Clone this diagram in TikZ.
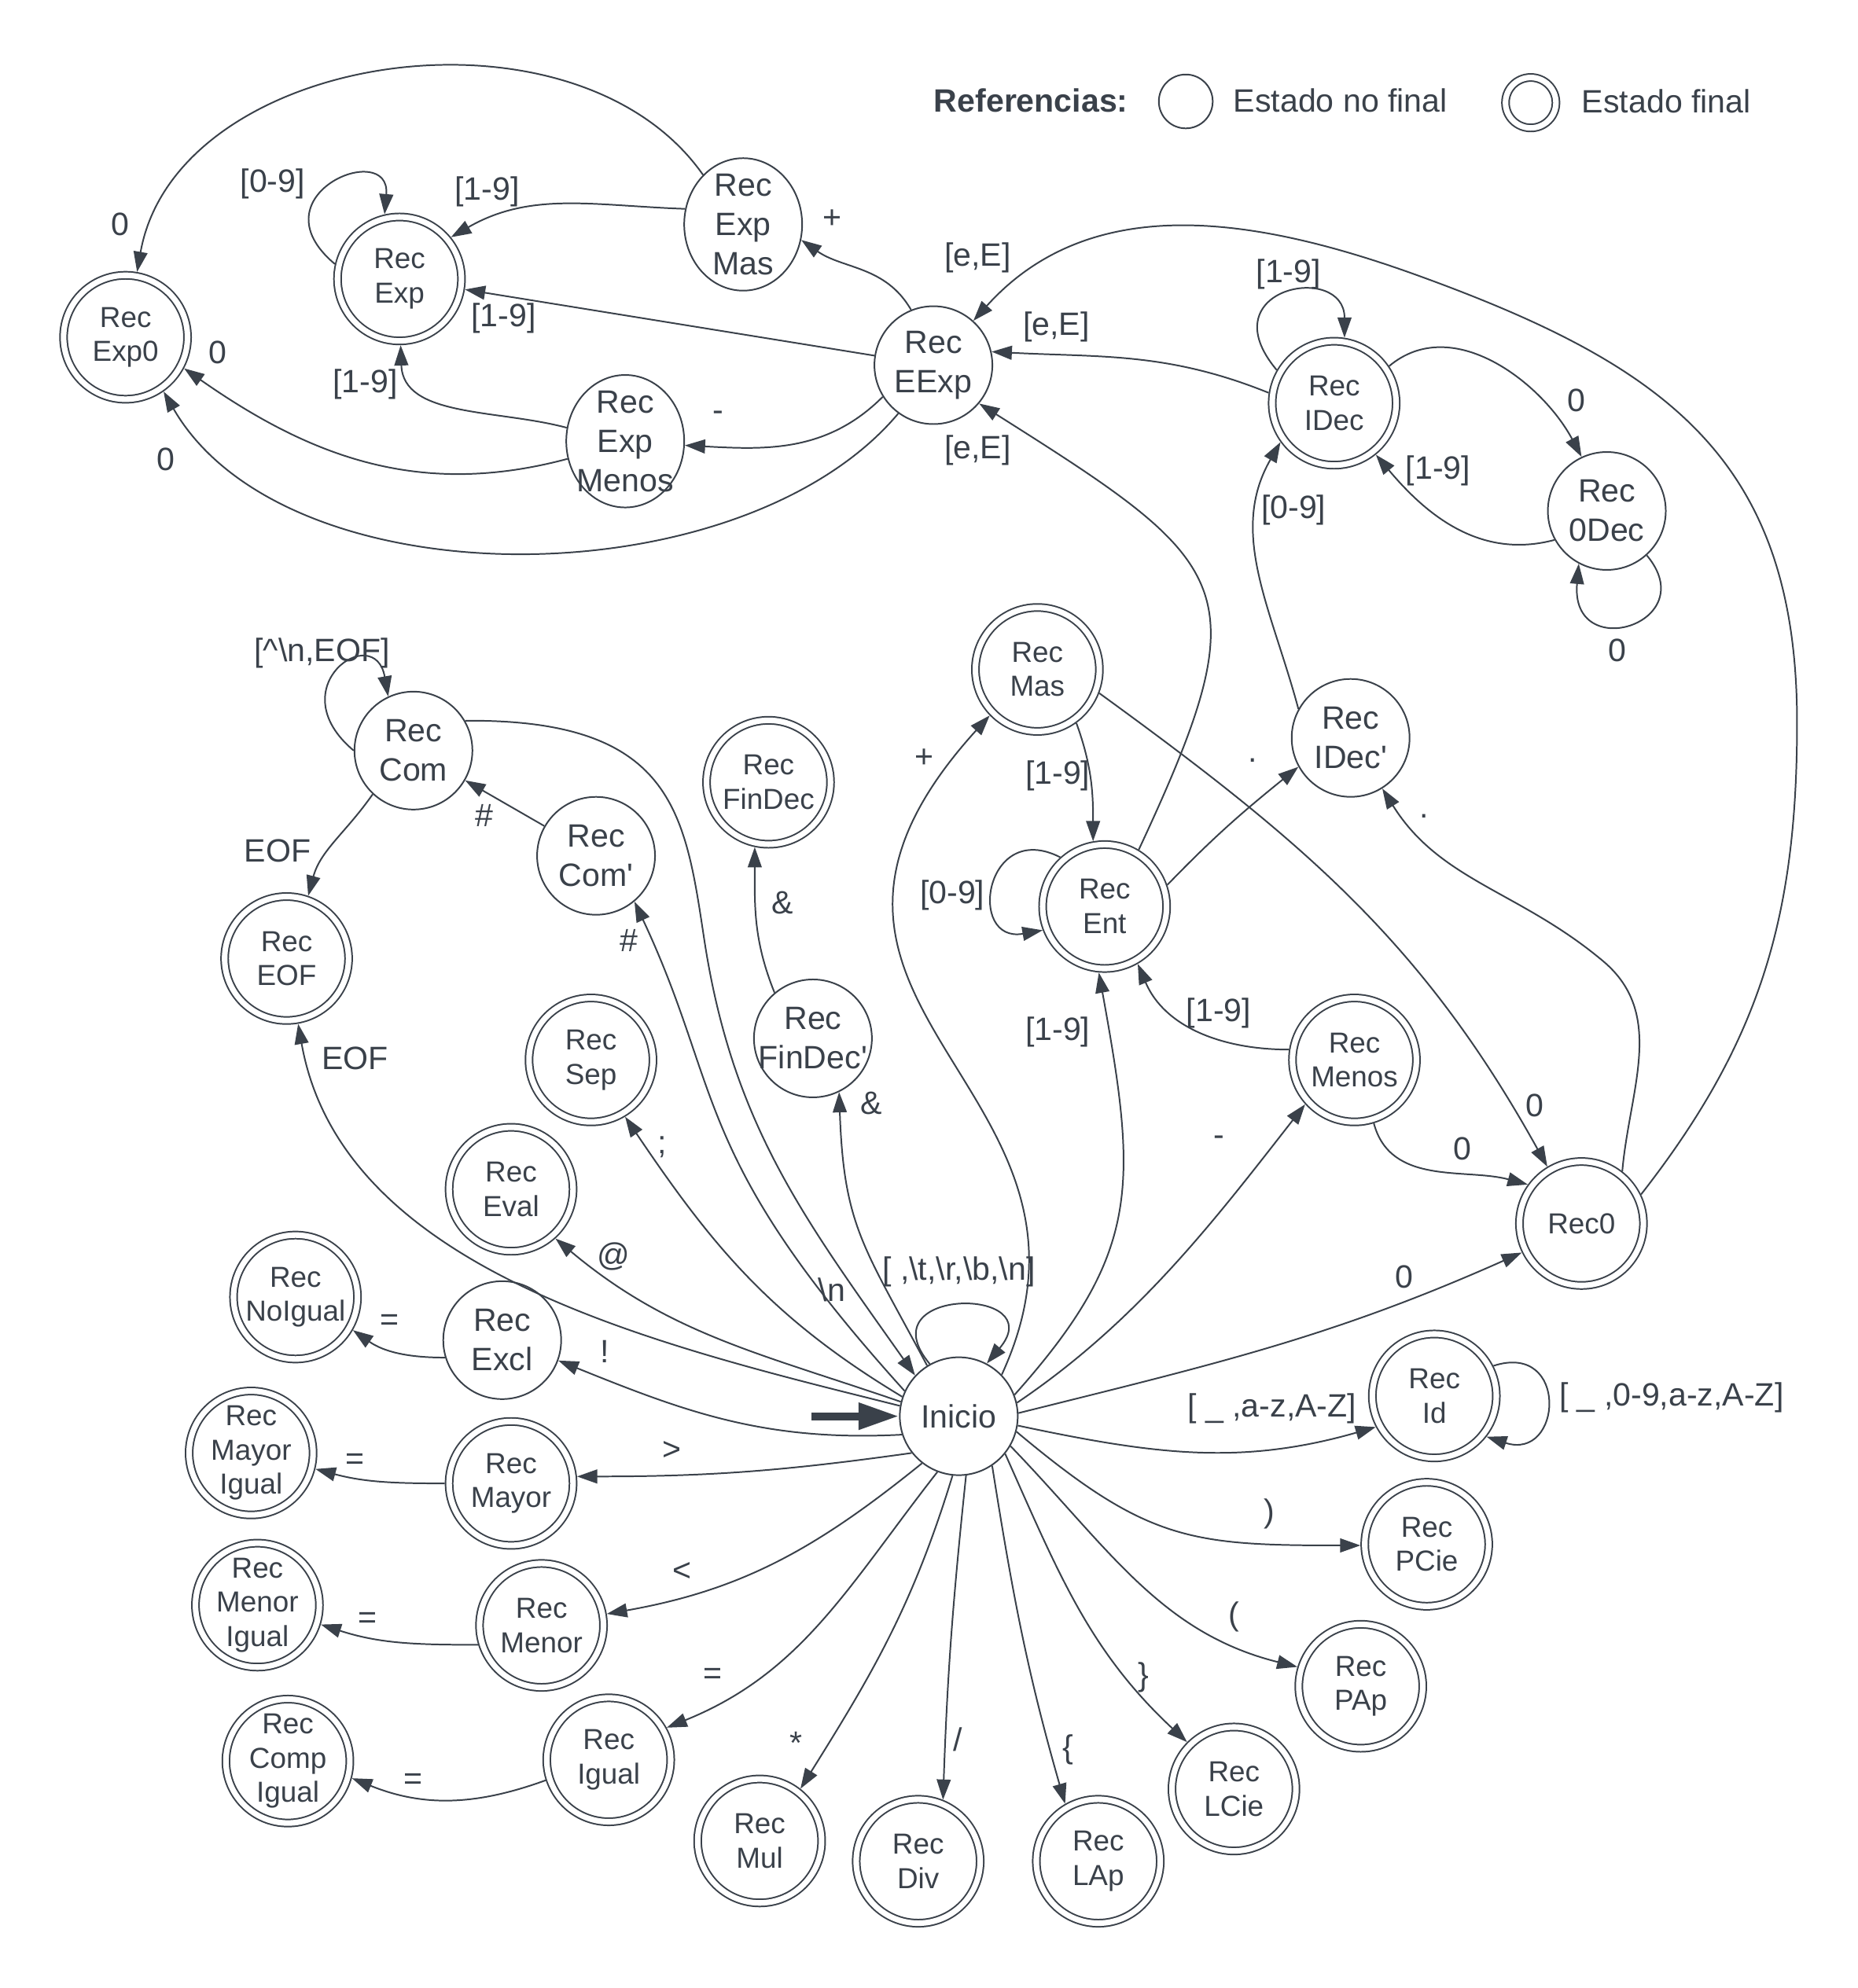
\documentclass[tikz,border=0pt]{standalone}
\usepackage{fontspec}
\setmainfont{Liberation Sans}
\usepackage{xcolor}
\usetikzlibrary{arrows.meta,shapes.geometric}
\definecolor{ink}{RGB}{58,65,74}
\newcommand{\bksl}{\textbackslash}
\newcommand{\prm}{\textquotesingle}

\begin{document}
\begin{tikzpicture}[
  x=0.02cm, y=0.02cm,
  >={Triangle[length=0.32cm,width=0.22cm]},
  nf/.style={circle, draw=ink, text=ink, line width=0.7pt, minimum size=1.86cm, inner sep=-8pt, align=center, font=\fontsize{14.5}{17.6}\selectfont},
  nfe/.style={nf, ellipse, minimum width=1.86cm, minimum height=2.09cm},
  fin/.style={circle, draw=ink, text=ink, line width=0.7pt, double, double distance=2.5pt, outer sep=1.95pt, minimum size=1.955cm, inner sep=-8pt, align=center, font=\fontsize{13}{15.4}\selectfont},
  lbl/.style={text=ink, inner sep=0pt, font=\fontsize{14.5}{17.6}\selectfont},
  tr/.style={->, draw=ink, line width=0.7pt}
]
\useasboundingbox (0,0) rectangle (1465,-1568);

% legend
\node[font=\bfseries\fontsize{14.5}{17.6}\selectfont, text=ink] (ref) at (813,-79) {Referencias:};
\node[nf, minimum size=0.85cm] (lgnf) at (935,-80) {};
\node[lbl] (lgnft) at (1057,-79) {Estado no final};
\node[fin, minimum size=0.79cm] (lgfin) at (1207,-81) {};
\node[lbl] (lgfint) at (1314,-80) {Estado final};

% states
\node[nf] (ini) at (756,-1117) {Inicio};
\node[fin] (exp0) at (99,-266) {Rec\\Exp0};
\node[fin] (exp) at (315,-220) {Rec\\Exp};
\node[nfe] (expmas) at (586,-177) {Rec\\Exp\\Mas};
\node[nfe] (expmenos) at (493,-348) {Rec\\Exp\\Menos};
\node[nf] (eexp) at (736,-288) {Rec\\EExp};
\node[fin] (idec) at (1052,-318) {Rec\\IDec};
\node[nf] (zdec) at (1267,-403) {Rec\\0Dec};
\node[fin] (mas) at (818,-528) {Rec\\Mas};
\node[fin] (findec) at (606,-617) {Rec\\FinDec};
\node[nf] (com) at (326,-592) {Rec\\Com};
\node[nf] (comp) at (470,-675) {Rec\\Com\prm};
\node[nf] (idecp) at (1065,-582) {Rec\\IDec\prm};
\node[fin] (ent) at (871,-715) {Rec\\Ent};
\node[fin] (eof) at (226,-756) {Rec\\EOF};
\node[fin] (sep) at (466,-836) {Rec\\Sep};
\node[nf] (findecp) at (641,-819) {Rec\\FinDec\prm};
\node[fin] (menos) at (1068,-836) {Rec\\Menos};
\node[fin] (eval) at (403,-938) {Rec\\Eval};
\node[fin] (cero) at (1247,-965) {Rec0};
\node[fin] (noigual) at (233,-1023) {Rec\\NoIgual};
\node[nf] (excl) at (396,-1057) {Rec\\Excl};
\node[fin] (id) at (1131,-1101) {Rec\\Id};
\node[fin] (mayorig) at (198,-1146) {Rec\\Mayor\\Igual};
\node[fin] (mayor) at (403,-1170) {Rec\\Mayor};
\node[fin] (pcie) at (1125,-1218) {Rec\\PCie};
\node[fin] (menorig) at (203,-1266) {Rec\\Menor\\Igual};
\node[fin] (menor) at (427,-1282) {Rec\\Menor};
\node[fin] (pap) at (1073,-1330) {Rec\\PAp};
\node[fin] (compig) at (227,-1389) {Rec\\Comp\\Igual};
\node[fin] (igual) at (480,-1388) {Rec\\Igual};
\node[fin] (lcie) at (973,-1411) {Rec\\LCie};
\node[fin] (mul) at (599,-1452) {Rec\\Mul};
\node[fin] (div) at (724,-1468) {Rec\\Div};
\node[fin] (lap) at (866,-1468) {Rec\\LAp};

\coordinate (st) at (640,-1117);
\coordinate (w1) at (1264,-758);
\coordinate (w2) at (1417,-570);
\coordinate (w3) at (1120,-218);
\coordinate (w4) at (555,-739);

% start
\draw[draw=ink, line width=3.5pt, -{Triangle[length=0.64cm,width=0.4cm]}] (st) -- (ini);

% from Inicio
\draw[tr] (ini.119) .. controls +(130:1.6cm) and +(50:1.6cm) .. (ini.62);
\draw[tr] (ini.170) to[out=166,in=-80,looseness=0.9] (eof.-80);
\draw[tr] (ini.166) to[out=161,in=-40] (eval.-48);
\draw[tr] (ini.161) to[out=149,in=-56] (sep.-59);
\draw[tr] (ini.155) .. controls (544,-910) and (571,-862) .. (comp.-50);
\draw[tr] (ini.122) to[out=118,in=-88,looseness=1.2] (findecp.-64);
\draw[tr] (ini.198) to[out=183,in=-22] (excl.-20);
\draw[tr] (ini.218) to[out=188,in=0] (mayor.6);
\draw[tr] (ini.-128) to[out=-141,in=10] (menor.10);
\draw[tr] (ini.-111) to[out=-128,in=22] (igual.29);
\draw[tr] (ini.-96) to[out=-107,in=58] (mul.52);
\draw[tr] (ini.-83) to[out=-96,in=88] (div.68);
\draw[tr] (ini.-56) to[out=-81,in=106] (lap.120);
\draw[tr] (ini.-39) to[out=-66,in=137] (lcie.135);
\draw[tr] (ini.-30) to[out=-46,in=166] (pap.163);
\draw[tr] (ini.-15) to[out=-40,in=180,looseness=1.2] (pcie.181);
\draw[tr] (ini.-9) to[out=-12,in=196] (id.208);
\draw[tr] (ini.3) to[out=14,in=204] (cero.206);
\draw[tr] (ini.13) to[out=34,in=232,looseness=0.9] (menos.222);
\draw[tr] (ini.21) .. controls (900,-988) and (897,-935) .. (ent.-95);
\draw[tr] (ini.44) .. controls (895,-856) and (571,-795) .. (mas.224);

% lower left
\draw[tr] (excl.197) to[out=180,in=-35] (noigual.-30);
\draw[tr] (mayor.180) to[out=180,in=-15] (mayorig.-14);
\draw[tr] (menor.197) to[out=180,in=-18] (menorig.-17);
\draw[tr] (igual.198) to[out=200,in=-22] (compig.-15);
\draw[tr] (id.27) .. controls +(18:1.26cm) and +(-18:1.26cm) .. (id.-38);

% comments
\draw[tr] (com.180) .. controls +(140:1.56cm) and +(100:1.22cm) .. (com.115);
\draw[tr] (com.227) to[out=235,in=75] (eof.71);
\draw[tr] (comp) -- (com);
\draw[tr] (com.30) .. controls (530,-567) and (540,-640) .. (w4) .. controls (577,-886) and (634,-961) .. (ini.137);
\draw[tr] (findecp.130) to[out=112,in=-90] (findec.-102);

% numbers
\draw[tr] (mas.-54) to[out=-70,in=90] (ent.100);
\draw[tr] (mas.-21) to[out=-36,in=119] (cero.121);
\draw[tr] (ent.132) .. controls +(153:1.34cm) and +(190:1.22cm) .. (ent.201);
\draw[tr] (ent.19) to[out=46,in=219] (idecp.209);
\draw[tr] (ent.59) .. controls (995,-462) and (974,-446) .. (eexp.-40);
\draw[tr] (menos.171) to[out=180,in=-67] (ent.-60);
\draw[tr] (menos.-73) to[out=-75,in=165] (cero.144);
\draw[tr] (cero.52) to[out=85,in=-40] (w1) to[out=140,in=-58] (idecp.-58);
\draw[tr] (cero.26) to[out=52,in=-90] (w2) to[out=90,in=-20,looseness=1.15] (w3) to[out=160,in=48] (eexp.48);
\draw[tr] (idecp.151) to[out=105,in=-120] (idec.216);
\draw[tr] (idec.150) .. controls +(130:1.7cm) and +(90:1.2cm) .. (idec.81);
\draw[tr] (idec.34) to[out=40,in=118] (zdec.115);
\draw[tr] (zdec.209) to[out=195,in=-50] (idec.-51);
\draw[tr] (zdec.-48) .. controls +(-50:1.4cm) and +(-95:1.6cm) .. (zdec.-118);
\draw[tr] (idec.171) to[out=158,in=-3] (eexp.13);

% exponent
\draw[tr] (eexp.112) to[out=120,in=-35] (expmas.-15);
\draw[tr] (eexp) -- (exp);
\draw[tr] (eexp.212) to[out=225,in=-3] (expmenos.-4);
\draw[tr] (eexp.-126) to[out=230,in=-60,looseness=0.85] (exp0.-55);
\draw[tr] (expmas.129) to[out=125,in=80] (exp0.80);
\draw[tr] (expmas.165) to[out=178,in=30] (exp.39);
\draw[tr] (expmenos.167) to[out=165,in=-88] (exp.-89);
\draw[tr] (expmenos.197) to[out=195,in=-35] (exp0.-28);
\draw[tr] (exp.167) .. controls +(140:1.7cm) and +(85:1.2cm) .. (exp.103);

% labels
\node[lbl] (l01) at (95,-177) {0};
\node[lbl] (l02) at (215,-145) {[0-9]};
\node[lbl] (l03) at (384,-151) {[1-9]};
\node[lbl] (l04) at (656,-173) {+};
\node[lbl] (l05) at (771,-203) {[e,E]};
\node[lbl] (l06) at (1016,-216) {[1-9]};
\node[lbl] (l07) at (397,-251) {[1-9]};
\node[lbl] (l08) at (833,-258) {[e,E]};
\node[lbl] (l09) at (172,-278) {0};
\node[lbl] (l10) at (288,-303) {[1-9]};
\node[lbl] (l11) at (1243,-316) {0};
\node[lbl] (l12) at (566,-328) {-};
\node[lbl] (l13) at (771,-355) {[e,E]};
\node[lbl] (l14) at (131,-362) {0};
\node[lbl] (l15) at (1134,-371) {[1-9]};
\node[lbl] (l16) at (1020,-402) {[0-9]};
\node[lbl] (l17) at (1275,-513) {0};
\node[lbl] (l18) at (254,-515) {[\textasciicircum\bksl n,EOF]};
\node[lbl] (l19) at (729,-598) {+};
\node[lbl] (l20) at (988,-600) {.};
\node[lbl] (l21) at (834,-612) {[1-9]};
\node[lbl] (l22) at (1123,-644) {.};
\node[lbl] (l23) at (382,-643) {\#};
\node[lbl] (l24) at (219,-671) {EOF};
\node[lbl] (l25) at (751,-706) {[0-9]};
\node[lbl] (l26) at (617,-712) {\&};
\node[lbl] (l27) at (496,-742) {\#};
\node[lbl] (l28) at (961,-799) {[1-9]};
\node[lbl] (l29) at (834,-814) {[1-9]};
\node[lbl] (l30) at (280,-835) {EOF};
\node[lbl] (l31) at (687,-870) {\&};
\node[lbl] (l32) at (1210,-872) {0};
\node[lbl] (l33) at (961,-900) {-};
\node[lbl] (l34) at (522,-905) {;};
\node[lbl] (l35) at (1153,-906) {0};
\node[lbl] (l36) at (484,-991) {@};
\node[lbl] (l37) at (756,-1003) {[ ,\bksl t,\bksl r,\bksl b,\bksl n]};
\node[lbl] (l38) at (1107,-1007) {0};
\node[lbl] (l39) at (656,-1017) {\bksl n};
\node[lbl] (l40) at (307,-1043) {=};
\node[lbl] (l41) at (477,-1066) {!};
\node[lbl] (l42) at (1318,-1102) {[ \_ ,0-9,a-z,A-Z]};
\node[lbl] (l43) at (1003,-1111) {[ \_ ,a-z,A-Z]};
\node[lbl] (l44) at (530,-1144) {>};
\node[lbl] (l45) at (280,-1153) {=};
\node[lbl] (l46) at (1001,-1194) {)};
\node[lbl] (l47) at (538,-1240) {<};
\node[lbl] (l48) at (973,-1275) {(};
\node[lbl] (l49) at (290,-1278) {=};
\node[lbl] (l50) at (562,-1322) {=};
\node[lbl] (l51) at (902,-1323) {\}};
\node[lbl] (l52) at (628,-1375) {*};
\node[lbl] (l53) at (755,-1372) {/};
\node[lbl] (l54) at (842,-1380) {\{};
\node[lbl] (l55) at (326,-1405) {=};
\end{tikzpicture}
\end{document}
